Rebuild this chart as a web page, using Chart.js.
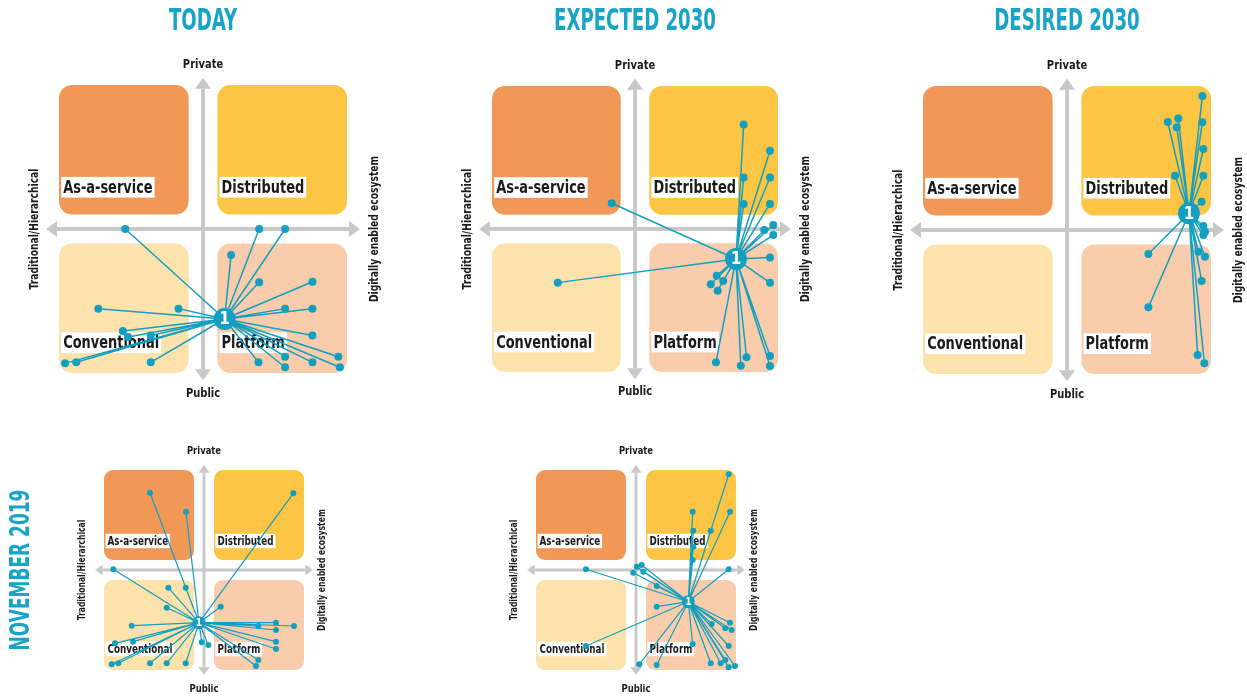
<!DOCTYPE html>
<html>
<head>
<meta charset="utf-8">
<script src="https://cdn.jsdelivr.net/npm/chart.js@4.4.0/dist/chart.umd.min.js"></script>
<style>
html, body { margin: 0; padding: 0; background: #fff; overflow: hidden; width: 1247px; height: 698px; }
canvas { position: absolute; }
</style>
</head>
<body>
<canvas id="today"></canvas>
<canvas id="expected"></canvas>
<canvas id="desired"></canvas>
<canvas id="nov1"></canvas>
<canvas id="nov2"></canvas>
<script>
// quadrant names, in order: top-left, top-right, bottom-left, bottom-right
var quadrants = ['As-a-service', 'Distributed', 'Conventional', 'Platform'];
var axisNames = ['Private', 'Public', 'Traditional/Hierarchical', 'Digitally enabled ecosystem'];
var panelTitles = ['TODAY', 'EXPECTED 2030', 'DESIRED 2030'];
var rowTitle = 'NOVEMBER 2019';

// x: -1 traditional .. +1 digital ecosystem, y: -1 public .. +1 private
var todayHub = [0.15, -0.625];
var todayPts = [
  [-0.54, 0.0], [0.39, 0.0], [0.57, 0.0], [0.195, -0.18], [0.39, -0.37],
  [0.76, -0.366], [0.57, -0.553], [0.76, -0.553], [0.76, -0.74], [0.385, -0.926],
  [0.57, -0.887], [0.57, -0.96], [0.76, -0.926], [0.94, -0.887], [0.95, -0.96],
  [-0.727, -0.553], [-0.17, -0.553], [-0.557, -0.708], [-0.52, -0.75], [-0.363, -0.74],
  [-0.958, -0.933], [-0.88, -0.926], [-0.363, -0.926]
];

var expectedHub = [0.706, -0.21];
var expectedPts = [
  [-0.163, 0.18], [-0.54, -0.375], [0.76, 0.73], [0.944, 0.548], [0.76, 0.36],
  [0.944, 0.36], [0.76, 0.175], [0.944, 0.175], [0.967, 0.028], [0.904, -0.007],
  [0.967, -0.042], [0.944, -0.2], [0.944, -0.375], [0.571, -0.327], [0.617, -0.364],
  [0.53, -0.387], [0.578, -0.431], [0.566, -0.932], [0.74, -0.956], [0.78, -0.897],
  [0.944, -0.888], [0.944, -0.958]
];

var desiredHub = [0.847, 0.116];
var desiredPts = [
  [0.94, 0.93], [0.70, 0.75], [0.773, 0.775], [0.762, 0.713], [0.94, 0.748],
  [0.947, 0.5625], [0.75, 0.377], [0.947, 0.377], [0.935, 0.197], [0.947, 0.028],
  [0.958, -0.012], [0.947, -0.035], [0.912, -0.151], [0.958, -0.185], [0.935, -0.354],
  [0.565, -0.167], [0.565, -0.537], [0.907, -0.868], [0.954, -0.926]
];

var nov1Hub = [-0.05, -0.527];
var nov1Pts = [
  [-0.54, 0.773], [-0.18, 0.583], [0.893, 0.767], [-0.907, 0.007], [-0.357, -0.177],
  [-0.183, -0.177], [-0.373, -0.377], [0.167, -0.367], [-0.723, -0.557], [0.543, -0.56],
  [0.72, -0.527], [0.72, -0.6], [0.9, -0.56], [0.72, -0.717], [0.72, -0.79],
  [-0.023, -0.723], [0.043, -0.75], [0.543, -0.9], [0.52, -0.96], [-0.89, -0.733],
  [-0.71, -0.717], [-0.923, -0.943], [-0.857, -0.933], [-0.54, -0.933], [-0.373, -0.933],
  [-0.183, -0.933]
];

var nov2Hub = [0.523, -0.317];
var nov2Pts = [
  [0.927, 0.957], [0.94, 0.583], [0.567, 0.583], [0.573, 0.393], [0.747, 0.393],
  [0.573, 0.233], [0.567, 0.1], [-0.5, 0.007], [0.007, 0.033], [0.057, 0.05],
  [-0.027, -0.027], [0.073, -0.017], [0.207, -0.16], [0.927, 0.007], [0.207, -0.367],
  [-0.5, -0.76], [0.757, -0.54], [0.94, -0.527], [0.893, -0.583], [0.957, -0.6],
  [0.927, -0.76], [0.567, -0.74], [0.033, -0.943], [0.207, -0.95], [0.747, -0.933],
  [0.893, -0.9], [0.927, -0.973], [0.99, -0.96], [0.847, -0.933]
];

var TEAL = '#139fbf';
var BOX_COLORS = ['#f29857', '#fcc543', '#fee2ab', '#f9cdab'];
var FONT = '"Liberation Sans Narrow", "DejaVu Sans Condensed", "Arial Narrow", sans-serif';

function squeezeText(ctx, str, x, y, sq, rot) {
  ctx.save();
  ctx.translate(x, y);
  if (rot) ctx.rotate(rot);
  ctx.scale(sq, 1);
  ctx.fillText(str, 0, 0);
  ctx.restore();
}

var quadPlugin = {
  id: 'quad',
  beforeDatasetsDraw: function (chart) {
    var o = chart.options.plugins.quad;
    var ctx = chart.ctx, X = chart.scales.x, Y = chart.scales.y;
    var px = function (v) { return X.getPixelForValue(v); };
    var py = function (v) { return Y.getPixelForValue(v); };
    var u = px(1) - px(0);
    var k = u / 144;
    ctx.save();
    // rounded quadrant boxes
    var bx = [[-1, -0.1, 1, 0.1], [0.1, 1, 1, 0.1], [-1, -0.1, -0.1, -1], [0.1, 1, -0.1, -1]];
    bx.forEach(function (b, i) {
      ctx.fillStyle = BOX_COLORS[i];
      ctx.beginPath();
      ctx.roundRect(px(b[0]), py(b[2]), px(b[1]) - px(b[0]), py(b[3]) - py(b[2]), 13 * k);
      ctx.fill();
    });
    // arrows
    var gray = '#c8c8c8', lw = 4 * k, hl = 11 * k, hw = 8 * k;
    var cx = px(0), cy = py(0);
    var l = px(-1.09), r = px(1.09), t = py(1.05), bt = py(-1.05);
    ctx.strokeStyle = gray; ctx.fillStyle = gray; ctx.lineWidth = lw;
    ctx.beginPath();
    ctx.moveTo(l + hl, cy); ctx.lineTo(r - hl, cy);
    ctx.moveTo(cx, t + hl); ctx.lineTo(cx, bt - hl);
    ctx.stroke();
    ctx.beginPath();
    ctx.moveTo(l, cy); ctx.lineTo(l + hl, cy - hw); ctx.lineTo(l + hl, cy + hw); ctx.closePath();
    ctx.moveTo(r, cy); ctx.lineTo(r - hl, cy - hw); ctx.lineTo(r - hl, cy + hw); ctx.closePath();
    ctx.moveTo(cx, t); ctx.lineTo(cx - hw, t + hl); ctx.lineTo(cx + hw, t + hl); ctx.closePath();
    ctx.moveTo(cx, bt); ctx.lineTo(cx - hw, bt - hl); ctx.lineTo(cx + hw, bt - hl); ctx.closePath();
    ctx.fill();
    // quadrant labels on white
    ctx.font = 'bold ' + o.quadSize + 'px ' + FONT;
    ctx.textBaseline = 'middle';
    ctx.textAlign = 'left';
    quadrants.forEach(function (name, i) {
      var x0 = px(i % 2 === 0 ? -0.985 : 0.115);
      var yc = py(i < 2 ? 0.29 : -0.79);
      var w = ctx.measureText(name).width * o.qsq;
      var h = o.quadSize * 1.15;
      ctx.fillStyle = '#fff';
      ctx.fillRect(x0, yc - h / 2, w + 4, h);
      ctx.fillStyle = '#1a1a1a';
      squeezeText(ctx, name, x0 + 2, yc + 1, o.qsq);
    });
    // axis labels
    ctx.font = 'bold ' + o.axisSize + 'px ' + FONT;
    ctx.textAlign = 'center';
    ctx.fillStyle = '#1a1a1a';
    squeezeText(ctx, axisNames[0], cx, py(o.topY), o.sq);
    squeezeText(ctx, axisNames[1], cx, py(-o.topY), o.sq);
    ctx.font = 'bold ' + o.sideSize + 'px ' + FONT;
    squeezeText(ctx, axisNames[2], px(o.leftX), cy, o.sq, -Math.PI / 2);
    squeezeText(ctx, axisNames[3], px(o.rightX), cy, o.sq, -Math.PI / 2);
    // spokes from the hub to every response point
    var hubMeta = chart.getDatasetMeta(1).data[0];
    var pts = chart.getDatasetMeta(0).data;
    ctx.strokeStyle = TEAL; ctx.lineWidth = o.spoke;
    ctx.beginPath();
    pts.forEach(function (p) {
      ctx.moveTo(hubMeta.x, hubMeta.y);
      ctx.lineTo(p.x, p.y);
    });
    ctx.stroke();
    ctx.restore();
  },
  afterDatasetsDraw: function (chart) {
    var o = chart.options.plugins.quad;
    var ctx = chart.ctx;
    var hubMeta = chart.getDatasetMeta(1).data[0];
    ctx.save();
    ctx.fillStyle = '#fff';
    ctx.font = 'bold ' + o.hubSize + 'px ' + FONT;
    ctx.textAlign = 'center';
    ctx.textBaseline = 'middle';
    ctx.fillText('1', hubMeta.x, hubMeta.y + 1);
    // titles
    ctx.fillStyle = '#19a3c6';
    if (o.title) {
      ctx.font = 'bold 31px ' + FONT;
      squeezeText(ctx, o.title, chart.scales.x.getPixelForValue(0), 22, 0.65);
    }
    if (o.rowTitle) {
      ctx.font = 'bold 27px ' + FONT;
      squeezeText(ctx, o.rowTitle, 22, chart.scales.y.getPixelForValue(0), 0.7, -Math.PI / 2);
    }
    ctx.restore();
  }
};

function makePanel(id, lay, hub, pts, big, title, row) {
  var cv = document.getElementById(id);
  cv.width = lay.w; cv.height = lay.h;
  cv.style.left = lay.left + 'px'; cv.style.top = lay.top + 'px';
  var xmin = -(lay.cx - lay.left) / lay.half, xmax = (lay.left + lay.w - lay.cx) / lay.half;
  var ymax = (lay.cy - lay.top) / lay.half, ymin = -(lay.top + lay.h - lay.cy) / lay.half;
  new Chart(cv.getContext('2d'), {
    type: 'scatter',
    data: {
      datasets: [{
        data: pts.map(function (p) { return { x: p[0], y: p[1] }; }),
        backgroundColor: TEAL,
        borderColor: TEAL,
        pointRadius: big ? 4 : 3,
        borderWidth: 0
      }, {
        data: [{ x: hub[0], y: hub[1] }],
        backgroundColor: TEAL,
        borderColor: TEAL,
        borderWidth: 0,
        pointRadius: big ? 11 : 6.5
      }]
    },
    options: {
      responsive: false,
      animation: false,
      events: [],
      layout: { padding: 0, autoPadding: false },
      scales: {
        x: { type: 'linear', min: xmin, max: xmax, display: false },
        y: { type: 'linear', min: ymin, max: ymax, display: false }
      },
      plugins: {
        legend: { display: false },
        tooltip: { enabled: false },
        quad: big ? {
          quadSize: 18, axisSize: 13, sideSize: 12, hubSize: 17, spoke: 1.5, sq: 0.85, qsq: 0.8,
          topY: 1.14, leftX: -1.167, rightX: 1.194, title: title, rowTitle: row
        } : {
          quadSize: 12.5, axisSize: 11, sideSize: 10, hubSize: 10, spoke: 1.2, sq: 0.85, qsq: 0.78,
          topY: 1.19, leftX: -1.22, rightX: 1.18, title: title, rowTitle: row
        }
      }
    },
    plugins: [quadPlugin]
  });
}

makePanel('today', { left: -7, top: 0, w: 420, h: 410, cx: 203, cy: 229, half: 144 }, todayHub, todayPts, true, panelTitles[0]);
makePanel('expected', { left: 425, top: 0, w: 420, h: 410, cx: 635, cy: 229, half: 143 }, expectedHub, expectedPts, true, panelTitles[1]);
makePanel('desired', { left: 857, top: 0, w: 420, h: 410, cx: 1067, cy: 230, half: 144 }, desiredHub, desiredPts, true, panelTitles[2]);
makePanel('nov1', { left: 0, top: 430, w: 420, h: 268, cx: 204, cy: 570, half: 100 }, nov1Hub, nov1Pts, false, null, rowTitle);
makePanel('nov2', { left: 425, top: 430, w: 420, h: 268, cx: 636, cy: 570, half: 100 }, nov2Hub, nov2Pts, false, null, null);
</script>
</body>
</html>
